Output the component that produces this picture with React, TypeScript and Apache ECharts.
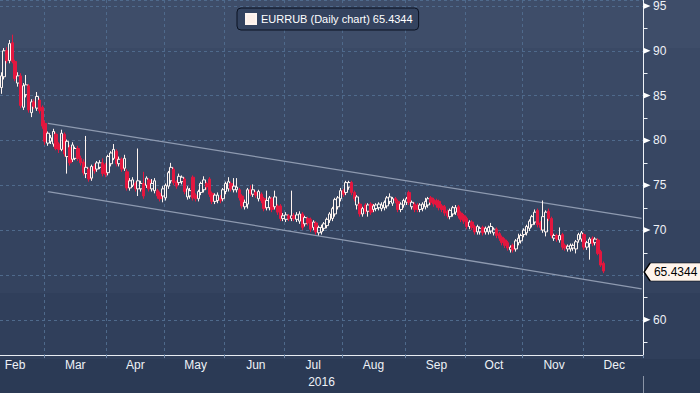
import React, { useEffect, useRef } from 'react';
import * as echarts from 'echarts';

// ---- Data ----
const seriesName = 'EURRUB (Daily chart)';
const lastClose = 65.4344;

const monthNames = ['Feb', 'Mar', 'Apr', 'May', 'Jun', 'Jul', 'Aug', 'Sep', 'Oct', 'Nov', 'Dec'];
const monthTradingDays = [16, 23, 21, 22, 22, 21, 23, 22, 21, 22, 22];
const monthLabelDay = [5, 11, 10, 11, 11, 10, 11, 11, 10, 11, 11];
const yearLabel = '2016';

// [open, close, low, high]
const feb = [
  [85.9, 87.2, 85.2, 87.6], [87.1, 90.0, 86.8, 90.3], [90.0, 88.9, 88.6, 90.4], [88.9, 90.8, 88.6, 91.2],
  [90.9, 88.8, 88.6, 91.8], [88.8, 86.9, 86.6, 89.0], [86.4, 87.2, 86.0, 87.6], [87.2, 83.9, 83.6, 87.5],
  [83.7, 86.1, 83.4, 86.4], [85.1, 86.2, 84.8, 87.3], [86.1, 83.4, 83.1, 86.3], [83.1, 84.3, 82.6, 84.6],
  [84.3, 83.8, 83.5, 84.6], [83.6, 84.9, 83.3, 85.4], [84.5, 83.3, 83.0, 84.7], [83.7, 81.6, 81.3, 83.9],
];
const mar = [
  [81.9, 79.9, 79.5, 82.2], [79.7, 80.8, 79.4, 81.0], [79.9, 80.3, 79.6, 80.6], [79.6, 81.0, 79.3, 81.3],
  [80.7, 79.1, 78.9, 80.9], [79.6, 79.0, 78.6, 79.8], [79.0, 80.8, 78.8, 81.2], [80.7, 78.5, 78.2, 80.9],
  [78.2, 79.9, 76.3, 80.1], [79.2, 77.5, 77.2, 79.5], [77.9, 79.5, 77.6, 79.8], [78.0, 79.1, 77.8, 79.3],
  [79.1, 78.0, 77.7, 79.4], [78.0, 77.5, 77.2, 78.3], [77.6, 76.4, 76.1, 77.9], [76.3, 77.0, 75.8, 80.5],
  [76.8, 75.7, 75.4, 77.0], [75.8, 77.1, 75.5, 77.3], [77.1, 76.6, 76.3, 77.4], [76.8, 77.5, 76.5, 77.7],
  [77.0, 77.5, 76.8, 77.8], [77.5, 76.3, 76.0, 78.0], [77.3, 76.2, 75.9, 77.5],
];
const apr = [
  [76.4, 78.2, 76.1, 78.4], [77.4, 78.6, 77.1, 78.8], [78.0, 79.0, 77.8, 79.6], [78.8, 77.4, 77.1, 79.0],
  [77.4, 77.9, 77.1, 78.2], [77.9, 76.8, 76.5, 78.1], [76.9, 78.0, 76.6, 78.4], [76.5, 74.7, 74.4, 76.8],
  [74.7, 75.5, 74.4, 75.8], [75.0, 75.6, 74.8, 75.9], [75.2, 74.6, 74.3, 75.4], [74.6, 75.5, 73.8, 79.1],
  [74.6, 75.2, 74.3, 75.5], [75.2, 73.8, 73.5, 76.5], [75.0, 75.8, 74.7, 76.0], [75.6, 74.6, 74.3, 75.8],
  [74.6, 75.2, 74.3, 75.7], [74.4, 75.5, 74.1, 75.8], [74.4, 73.8, 73.5, 74.6], [74.1, 73.5, 73.2, 74.3],
  [73.8, 74.6, 73.1, 74.9],
];
const may = [
  [73.6, 75.0, 73.3, 75.2], [74.9, 76.4, 74.6, 76.6], [75.5, 77.0, 75.2, 77.5], [76.8, 75.3, 75.0, 77.0],
  [75.4, 74.9, 74.6, 75.6], [75.3, 76.0, 75.0, 76.3], [75.4, 75.9, 75.1, 76.1], [75.7, 74.3, 74.0, 75.9],
  [73.7, 74.6, 73.4, 74.9], [73.8, 74.4, 73.5, 74.7], [75.9, 73.6, 73.3, 76.1], [73.9, 73.5, 73.2, 74.1],
  [73.5, 74.3, 73.2, 74.5], [74.2, 75.2, 73.9, 75.4], [74.5, 75.6, 74.2, 76.0], [75.2, 74.8, 74.5, 75.4],
  [75.7, 74.0, 73.7, 75.9], [74.1, 73.2, 72.9, 74.3], [73.2, 73.9, 72.9, 74.1], [73.3, 73.9, 73.0, 74.2],
  [73.6, 73.3, 73.0, 73.9], [73.5, 74.5, 73.2, 74.7],
];
const jun = [
  [74.3, 75.2, 74.0, 75.4], [74.6, 75.4, 74.3, 75.9], [75.2, 74.6, 74.3, 75.4], [74.5, 74.9, 74.2, 75.8],
  [74.5, 74.8, 74.2, 75.8], [74.5, 73.6, 73.3, 74.7], [73.8, 72.7, 72.4, 74.0], [72.6, 73.1, 72.3, 73.4],
  [72.9, 74.5, 72.4, 74.7], [74.5, 74.1, 73.8, 75.0], [74.0, 74.5, 73.7, 75.1], [74.2, 73.9, 73.6, 74.4],
  [73.5, 74.3, 73.2, 74.5], [74.0, 73.3, 73.0, 74.2], [73.5, 72.4, 72.1, 73.7], [72.5, 73.3, 72.2, 74.4],
  [72.5, 73.6, 72.2, 73.8], [73.5, 72.3, 72.0, 73.7], [72.6, 73.7, 72.3, 74.4], [72.7, 72.0, 71.7, 72.9],
  [72.7, 71.3, 71.0, 72.9], [71.3, 71.6, 71.0, 71.9],
];
const jul = [
  [71.2, 71.7, 70.9, 72.0], [71.6, 71.3, 71.0, 71.8], [71.3, 71.6, 71.0, 74.4], [71.6, 71.3, 71.0, 71.9],
  [71.2, 71.7, 70.9, 72.0], [71.0, 71.8, 70.7, 72.1], [71.8, 70.3, 70.0, 72.0], [70.7, 71.4, 70.4, 71.6],
  [71.3, 70.8, 70.5, 71.5], [71.2, 70.1, 69.8, 71.4], [70.3, 70.9, 70.0, 71.1], [70.8, 69.8, 69.5, 71.0],
  [69.7, 70.3, 69.4, 70.5], [69.8, 70.3, 69.5, 70.6], [70.2, 70.7, 69.9, 70.9], [70.5, 71.2, 70.2, 71.4],
  [71.1, 71.8, 70.8, 72.0], [71.3, 72.4, 71.0, 72.6], [71.8, 73.4, 71.5, 73.6], [72.6, 73.6, 72.3, 73.8],
  [73.5, 74.4, 73.2, 74.7],
];
const aug = [
  [74.4, 74.0, 73.7, 74.6], [74.2, 75.3, 73.9, 75.5], [74.8, 75.3, 74.5, 75.5], [75.3, 74.2, 73.9, 75.5],
  [74.2, 73.5, 73.2, 74.4], [72.8, 73.7, 72.3, 73.9], [72.9, 71.8, 71.5, 73.1], [71.8, 72.4, 71.5, 72.6],
  [72.8, 72.1, 71.8, 73.0], [72.1, 72.8, 71.5, 73.0], [72.9, 72.0, 71.7, 73.1], [72.3, 72.7, 72.0, 72.9],
  [72.4, 72.8, 72.1, 73.0], [72.5, 72.9, 72.2, 73.1], [72.4, 72.8, 72.1, 73.1], [72.5, 73.1, 72.2, 73.3],
  [72.7, 73.6, 72.4, 73.8], [73.2, 73.7, 72.9, 74.1], [73.0, 73.5, 72.7, 73.7], [73.5, 73.3, 73.0, 73.7],
  [73.2, 72.3, 72.0, 73.4], [72.3, 72.9, 72.0, 73.1], [72.8, 73.3, 72.5, 73.5],
];
const sep = [
  [73.1, 73.5, 72.8, 73.7], [74.2, 73.1, 72.8, 74.4], [72.6, 73.1, 72.3, 73.3], [72.9, 72.3, 72.0, 73.1],
  [72.8, 72.3, 72.0, 73.0], [72.3, 72.8, 72.0, 73.0], [72.4, 72.9, 72.1, 73.1], [72.6, 73.2, 72.3, 73.6],
  [72.8, 73.5, 72.5, 73.7], [73.6, 73.1, 72.8, 73.8], [73.4, 72.9, 72.6, 73.6], [73.3, 72.8, 72.5, 73.5],
  [73.2, 72.5, 72.2, 73.4], [72.7, 72.3, 72.0, 72.9], [72.6, 71.9, 71.6, 72.8], [72.1, 71.6, 71.3, 72.3],
  [71.5, 72.2, 71.2, 72.4], [71.8, 72.5, 71.5, 72.7], [72.0, 72.5, 71.7, 72.8], [72.6, 71.6, 71.3, 72.8],
  [71.9, 71.2, 70.9, 72.1], [71.6, 71.0, 70.7, 71.8],
];
const oct = [
  [71.3, 70.4, 70.1, 71.5], [70.4, 70.9, 70.1, 71.1], [70.9, 70.3, 70.0, 71.1], [70.4, 69.8, 69.5, 70.6],
  [69.8, 70.4, 69.5, 70.6], [69.8, 70.2, 69.5, 70.4], [70.3, 69.7, 69.4, 70.5], [69.8, 70.2, 69.5, 70.4],
  [69.8, 70.3, 69.5, 70.5], [69.9, 70.4, 69.6, 70.8], [69.7, 70.1, 69.4, 70.3], [70.1, 69.4, 69.1, 70.3],
  [69.6, 69.1, 68.8, 69.8], [69.2, 68.6, 68.3, 69.4], [68.9, 68.3, 68.0, 69.1], [68.6, 68.0, 67.7, 68.8],
  [67.8, 68.1, 67.5, 68.3], [68.3, 67.8, 67.5, 68.5], [67.9, 68.8, 67.6, 69.0], [68.6, 69.1, 68.3, 69.6],
  [68.8, 69.4, 68.5, 69.6],
];
const nov = [
  [69.5, 70.0, 69.2, 70.2], [69.7, 70.4, 69.4, 70.6], [70.2, 71.0, 69.9, 71.2], [70.6, 71.5, 70.3, 71.7],
  [70.9, 72.0, 70.6, 72.3], [72.2, 70.6, 70.3, 72.4], [70.8, 70.3, 70.0, 71.0], [70.0, 71.5, 69.7, 73.3],
  [69.8, 72.0, 69.3, 72.2], [72.1, 71.3, 71.0, 72.4], [71.3, 69.4, 69.1, 71.5], [69.1, 69.4, 68.8, 69.6],
  [69.4, 69.0, 68.7, 69.6], [68.9, 69.4, 68.6, 70.3], [69.5, 68.1, 67.8, 69.7], [68.3, 68.0, 67.7, 68.5],
  [67.9, 68.2, 67.6, 68.4], [67.9, 68.3, 67.6, 68.5], [68.0, 68.3, 67.7, 68.5], [67.9, 68.7, 67.4, 68.9],
  [68.9, 69.5, 68.6, 69.7], [69.0, 69.7, 68.7, 69.9],
];
const dec = [
  [69.5, 68.1, 67.8, 69.7], [68.1, 68.6, 67.8, 68.8], [68.5, 69.0, 66.7, 69.2], [69.1, 68.5, 68.2, 69.3],
  [68.6, 69.0, 68.3, 69.2], [68.9, 67.4, 67.2, 69.1], [67.6, 66.1, 65.9, 67.8], [66.3, 65.4344, 65.2, 66.5],
];

// trend channel: [category index, value]
const channelUpper = [[17, 81.9], [234, 71.3]];
const channelLower = [[17, 74.3], [234, 63.45]];

// y axis scale and tick marks
const yMin = 56.06;
const yMax = 95.66;
const yMajorTicks = [60, 70, 75, 80, 85, 90, 95];
const yMinorTicks = [57.5, 62.5, 67.5, 72.5, 77.5, 82.5, 87.5, 92.5];

// ---- Derived ----
const candles = [...feb, ...mar, ...apr, ...may, ...jun, ...jul, ...aug, ...sep, ...oct, ...nov, ...dec];
const categories: string[] = [];
const monthStarts = new Set<number>();
const labelIdx = new Set<number>();
monthNames.forEach((m, mi) => {
  const start = categories.length;
  if (start > 0) monthStarts.add(start);
  labelIdx.add(start + monthLabelDay[mi]);
  for (let k = 0; k < monthTradingDays[mi]; k++) categories.push(`${m} ${k + 1}`);
});
const lastIdx = categories.length - 1;

const FONT = "'Liberation Sans', Arial, sans-serif";

const bg = new echarts.graphic.LinearGradient(0, 0, 0, 1, [
  { offset: 0, color: '#3e4d69' }, { offset: 48 / 393, color: '#3e4d69' },
  { offset: 48 / 393, color: '#3a4965' }, { offset: 130 / 393, color: '#3a4965' },
  { offset: 130 / 393, color: '#374662' }, { offset: 210 / 393, color: '#374662' },
  { offset: 210 / 393, color: '#34435f' }, { offset: 293 / 393, color: '#34435f' },
  { offset: 293 / 393, color: '#303f5b' }, { offset: 359 / 393, color: '#303f5b' },
  { offset: 359 / 393, color: '#2b3a55' }, { offset: 1, color: '#2b3a55' },
]);

export default function App() {
  const ref = useRef<HTMLDivElement>(null);
  useEffect(() => {
    const chart = echarts.init(ref.current!, null, { renderer: 'svg' });
    const priceMark = {
      coord: [lastIdx, lastClose],
      symbol: 'path://M0,9L6,0L57,0L57,18L6,18Z',
      symbolSize: [57, 18],
      symbolOffset: [31, 1],
      itemStyle: { color: '#fff4ec', borderColor: '#000000', borderWidth: 1 },
      label: {
        show: true,
        position: 'inside',
        formatter: String(lastClose),
        color: '#000000',
        fontSize: 12,
        fontFamily: FONT,
        offset: [3, 0],
      },
    };
    const option: any = {
      animation: false,
      backgroundColor: bg,
      textStyle: { fontFamily: FONT },
      grid: { left: 0, right: 57, top: 0, bottom: 34, containLabel: false },
      legend: {
        data: [{ name: seriesName, icon: 'rect', itemStyle: { color: '#fdf0ea' } }],
        formatter: (n: string) => `${n} ${lastClose}`,
        left: 237,
        top: 8,
        itemWidth: 10,
        itemHeight: 10,
        padding: [5, 6, 5, 8],
        backgroundColor: '#34435f',
        borderColor: '#0b1322',
        borderWidth: 1,
        borderRadius: 4,
        selectedMode: false,
        textStyle: { color: '#ffffff', fontSize: 11, fontFamily: FONT },
      },
      xAxis: {
        type: 'category',
        data: categories,
        boundaryGap: true,
        name: yearLabel,
        nameLocation: 'middle',
        nameGap: 18,
        nameTextStyle: { color: '#eef2f7', fontSize: 12, fontFamily: FONT },
        axisLine: { show: true, lineStyle: { color: '#e9edf3', width: 1 } },
        axisTick: {
          show: true,
          length: 3,
          interval: (i: number) => monthStarts.has(i),
          lineStyle: { color: '#6f86a6' },
        },
        axisLabel: {
          interval: (i: number) => labelIdx.has(i),
          formatter: (v: string) => v.split(' ')[0],
          color: '#eef2f7',
          fontSize: 12,
          margin: 4,
          fontFamily: FONT,
        },
        splitLine: {
          show: true,
          interval: (i: number) => monthStarts.has(i),
          lineStyle: { color: '#4f6a8c', type: [3, 3], width: 1 },
        },
      },
      yAxis: {
        type: 'value',
        position: 'right',
        min: yMin,
        max: yMax,
        splitNumber: 8,
        axisLine: { show: true, lineStyle: { color: '#eef2f7', width: 1 } },
        axisTick: { show: false },
        axisLabel: {
          showMinLabel: false,
          showMaxLabel: false,
          margin: 10,
          color: '#eef2f7',
          fontSize: 12,
          fontFamily: FONT,
          formatter: (v: number) => (Math.abs(v - lastClose) < 2.5 ? '' : String(v)),
        },
        splitLine: { show: true, lineStyle: { color: '#4f6a8c', type: [3, 3], width: 1 } },
      },
      series: [
        {
          type: 'line',
          data: channelUpper,
          symbol: 'none',
          silent: true,
          lineStyle: { color: '#8e9ab0', width: 1.3 },
          z: 1,
        },
        {
          type: 'line',
          data: channelLower,
          symbol: 'none',
          silent: true,
          lineStyle: { color: '#8e9ab0', width: 1.3 },
          z: 1,
        },
        {
          name: seriesName,
          type: 'candlestick',
          data: candles,
          barWidth: 3,
          z: 3,
          itemStyle: {
            color: 'rgba(0,0,0,0)',
            color0: '#e3173f',
            borderColor: '#fff5f0',
            borderColor0: '#e3173f',
            borderWidth: 1,
          },
          markPoint: {
            silent: true,
            symbolKeepAspect: false,
            data: [priceMark],
          },
        },
      ],
    };
    chart.setOption(option);

    // axis tick marks placed through the y axis scale
    const axisX = 643.5;
    const graphics: any[] = [
      {
        type: 'line',
        shape: { x1: axisX, y1: 376, x2: axisX, y2: 393 },
        style: { stroke: '#8a94a6', lineWidth: 1 },
        silent: true,
        z: 100,
      },
    ];
    yMajorTicks.forEach((v) => {
      const y = chart.convertToPixel({ yAxisIndex: 0 }, v) as number;
      graphics.push({
        type: 'polygon',
        shape: { points: [[axisX, y - 3], [axisX + 7, y], [axisX, y + 3]] },
        style: { fill: '#ffffff' },
        silent: true,
        z: 100,
      });
    });
    yMinorTicks.forEach((v) => {
      const y = Math.round(chart.convertToPixel({ yAxisIndex: 0 }, v) as number) + 0.5;
      graphics.push({
        type: 'line',
        shape: { x1: axisX, y1: y, x2: axisX + 4, y2: y },
        style: { stroke: '#eef2f7', lineWidth: 1 },
        silent: true,
        z: 100,
      });
    });
    chart.setOption({ graphic: graphics });

    return () => chart.dispose();
  }, []);
  return <div ref={ref} style={{ position: 'fixed', left: 0, top: 0, width: 700, height: 393 }} />;
}
